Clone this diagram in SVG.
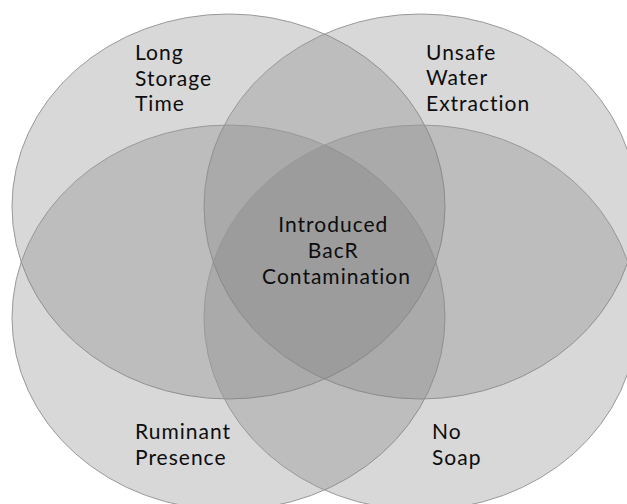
<svg xmlns="http://www.w3.org/2000/svg" width="627" height="504" viewBox="0 0 627 504">
  <style>
    .set { fill: #7f7f7f; fill-opacity: 0.3; stroke: #999999; stroke-width: 1; }
    .lbl { font-family: Lato, "Open Sans", "Liberation Sans", sans-serif; font-size: 21px; fill: #0d0d0d; letter-spacing: 1px; font-variant-ligatures: none; font-feature-settings: "liga" 0, "clig" 0; }
    .mid { text-anchor: middle; }
  </style>
  <rect x="0" y="0" width="627" height="504" fill="#ffffff"/>
  <g id="long-storage-time">
    <ellipse class="set" cx="228.5" cy="206.5" rx="216.5" ry="192.5"/>
    <text class="lbl" x="135" y="60">
      <tspan x="135" y="60">Long</tspan>
      <tspan x="135" y="85.5">Storage</tspan>
      <tspan x="135" y="111">Time</tspan>
    </text>
  </g>
  <g id="unsafe-water-extraction">
    <ellipse class="set" cx="420.5" cy="206.5" rx="216.5" ry="192.5"/>
    <text class="lbl" x="426" y="59.5">
      <tspan x="426" y="59.5">Unsafe</tspan>
      <tspan x="426" y="85">Water</tspan>
      <tspan x="426" y="110.5">Extraction</tspan>
    </text>
  </g>
  <g id="ruminant-presence">
    <ellipse class="set" cx="228.5" cy="317.5" rx="216.5" ry="192.5"/>
    <text class="lbl" x="135" y="439">
      <tspan x="135" y="439">Ruminant</tspan>
      <tspan x="135" y="465">Presence</tspan>
    </text>
  </g>
  <g id="no-soap">
    <ellipse class="set" cx="420.5" cy="317.5" rx="216.5" ry="192.5"/>
    <text class="lbl" x="432" y="439">
      <tspan x="432" y="439">No</tspan>
      <tspan x="432" y="465">Soap</tspan>
    </text>
  </g>
  <g id="introduced-bacr-contamination">
    <text class="lbl mid" x="336.5" y="232">
      <tspan x="336.5" y="232">Introduced</tspan>
      <tspan x="336.5" y="258">BacR</tspan>
      <tspan x="336.5" y="284">Contamination</tspan>
    </text>
  </g>
</svg>
